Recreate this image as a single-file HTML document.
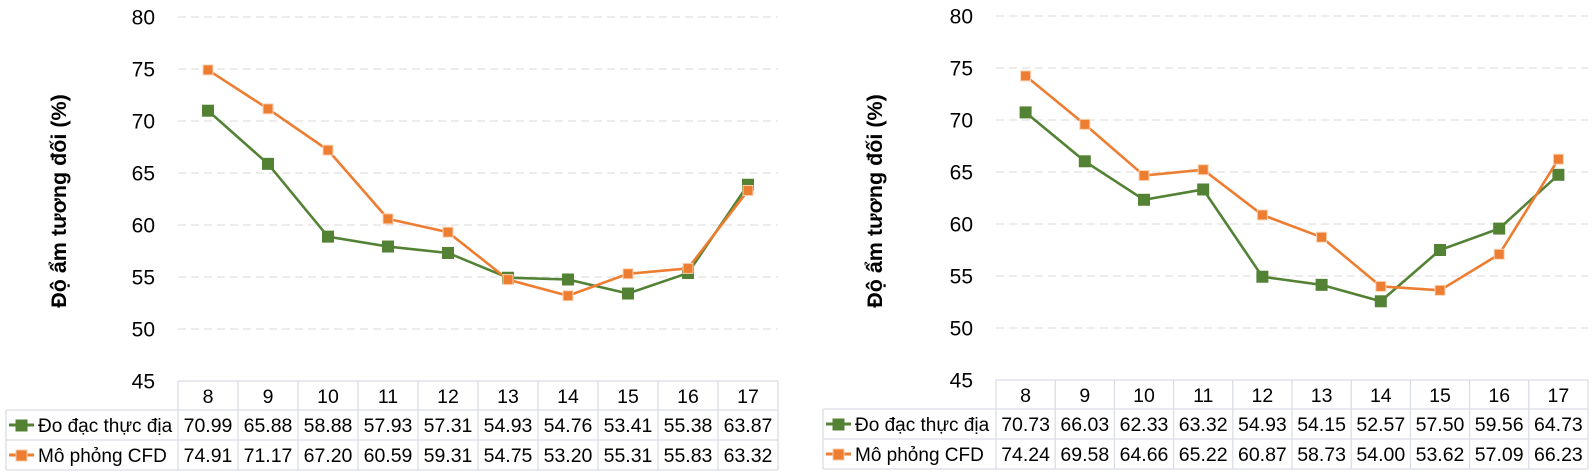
<!DOCTYPE html>
<html><head><meta charset="utf-8"><style>
html,body{margin:0;padding:0;background:#fff;width:1594px;height:474px;overflow:hidden}
svg{display:block;font-family:"Liberation Sans",sans-serif}
</style></head><body>
<svg id="s" width="1594" height="474" xmlns="http://www.w3.org/2000/svg"></svg>
<script>
const charts=[
 {x0:178,cw:60,top:17,bot:381,lab:6,tickX:155,titleX:66,
  a:[70.99,65.88,58.88,57.93,57.31,54.93,54.76,53.41,55.38,63.87],
  b:[74.91,71.17,67.20,60.59,59.31,54.75,53.20,55.31,55.83,63.32]},
 {x0:996,cw:59.2,top:16,bot:380,lab:823,tickX:973,titleX:882,
  a:[70.73,66.03,62.33,63.32,54.93,54.15,52.57,57.50,59.56,64.73],
  b:[74.24,69.58,64.66,65.22,60.87,58.73,54.00,53.62,57.09,66.23]}
];
let h='';
const G='#548235',O='#ED7D31',B='#d9dee6';
for(const c of charts){
 const sp=(c.bot-c.top)/7, Y=v=>c.bot-(v-45)/5*sp, X=i=>c.x0+c.cw*(i+0.5);
 const right=c.x0+c.cw*10;
 for(let k=0;k<8;k++){const y=c.top+k*sp;
  if(k<7)h+=`<line x1="${c.x0}" x2="${right}" y1="${y}" y2="${y}" stroke="#d9d9d9" stroke-dasharray="8,5"/>`;
  h+=`<text x="${c.tickX}" y="${y+7.5}" font-size="21" text-anchor="end" fill="#000">${80-k*5}</text>`;}
 h+=`<text transform="translate(${c.titleX},201) rotate(-90)" font-size="21.5" font-weight="bold" text-anchor="middle">Độ ẩm tương đối (%)</text>`;
 const r0=c.bot,r1=r0+29,r2=r1+30,r3=r2+30;
 h+=`<g stroke="${B}" stroke-width="1.3" fill="none">`;
 h+=`<line x1="${c.x0}" x2="${right}" y1="${r0}" y2="${r0}"/>`;
 for(const y of [r1,r2,r3])h+=`<line x1="${c.lab}" x2="${right}" y1="${y}" y2="${y}"/>`;
 h+=`<line x1="${c.lab}" x2="${c.lab}" y1="${r1}" y2="${r3}"/>`;
 for(let i=0;i<=10;i++)h+=`<line x1="${c.x0+c.cw*i}" x2="${c.x0+c.cw*i}" y1="${r0}" y2="${r3}"/>`;
 h+='</g>';
 for(let i=0;i<10;i++){
  h+=`<text x="${X(i)}" y="${r0+22}" font-size="19.5" text-anchor="middle">${i+8}</text>`;
  h+=`<text x="${X(i)}" y="${r1+22}" font-size="19.5" text-anchor="middle">${c.a[i].toFixed(2)}</text>`;
  h+=`<text x="${X(i)}" y="${r2+22}" font-size="19.5" text-anchor="middle">${c.b[i].toFixed(2)}</text>`;
 }
 for(const [r,col,t] of [[r1,G,'Đo đạc thực địa'],[r2,O,'Mô phỏng CFD']]){
  const y=r+15;
  h+=`<line x1="${c.lab+3}" x2="${c.lab+28}" y1="${y}" y2="${y}" stroke="${col}" stroke-width="3"/>`;
  h+=`<rect x="${c.lab+10}" y="${y-5}" width="11" height="11" fill="${col}" stroke="${col===O?'#f5c9a8':col}"/>`;
  h+=`<text x="${c.lab+32}" y="${r+22}" font-size="19">${t}</text>`;
 }
 for(const [d,col] of [[c.a,G],[c.b,O]]){
  h+=`<polyline fill="none" stroke="${col}" stroke-width="2.6" points="${d.map((v,i)=>X(i)+','+Y(v)).join(' ')}"/>`;
  for(let i=0;i<10;i++){
   if(col===G)h+=`<rect x="${X(i)-6}" y="${Y(d[i])-6}" width="12" height="12" fill="${G}"/>`;
   else h+=`<rect x="${X(i)-5}" y="${Y(d[i])-5}" width="10" height="10" fill="${O}" stroke="#fbd3b4" stroke-width="1"/>`;
  }
 }
}
document.getElementById('s').innerHTML=h;
</script>
</body></html>
